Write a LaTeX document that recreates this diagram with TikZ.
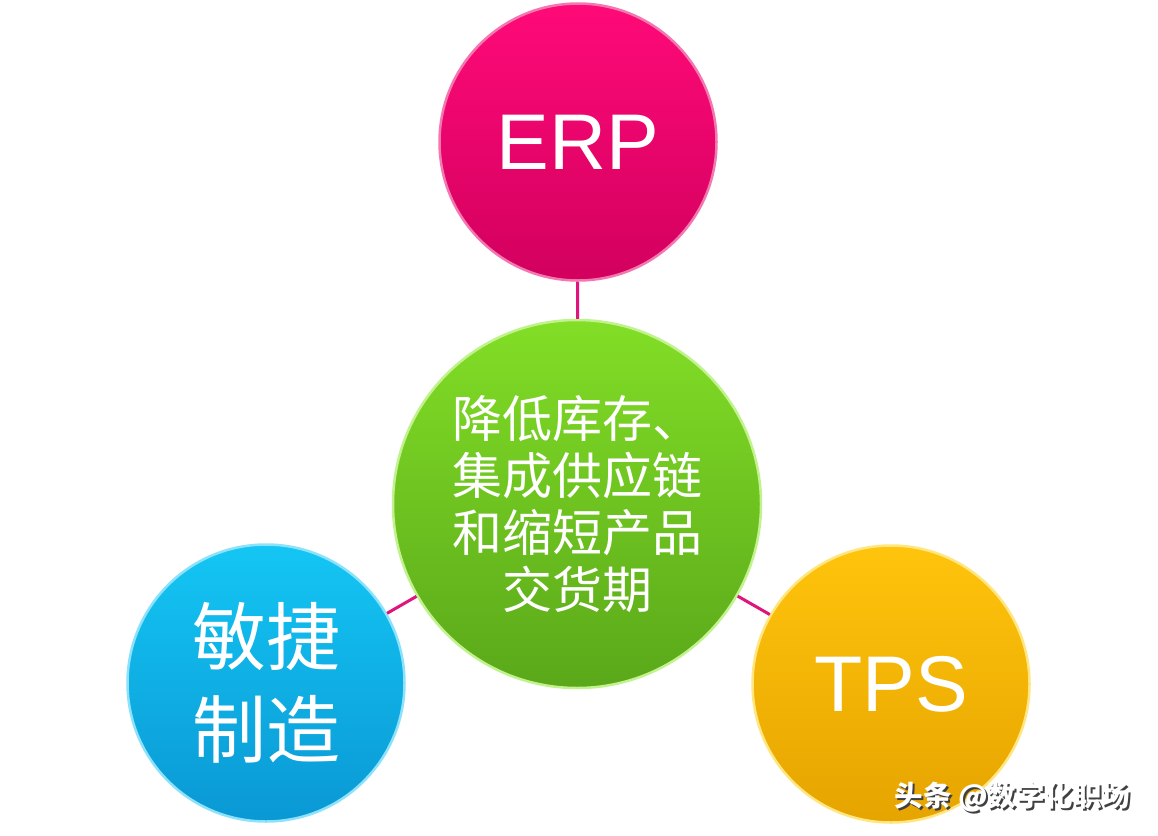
\documentclass[tikz,border=0pt]{standalone}
\usepackage{fontspec}
\setmainfont{Liberation Sans}
\newfontfamily\cjk{Noto Sans CJK SC}
\definecolor{linkpink}{HTML}{E0147C}
\definecolor{erpTop}{HTML}{FF0A78}
\definecolor{erpBot}{HTML}{D2005E}
\definecolor{erpRim}{HTML}{F478B0}
\definecolor{grnTop}{HTML}{82DE26}
\definecolor{grnBot}{HTML}{5AA81A}
\definecolor{grnRim}{HTML}{C2F28E}
\definecolor{bluTop}{HTML}{14C6F4}
\definecolor{bluBot}{HTML}{0A98D4}
\definecolor{bluRim}{HTML}{8CE2FA}
\definecolor{orgTop}{HTML}{FFC40C}
\definecolor{orgBot}{HTML}{E6A400}
\definecolor{orgRim}{HTML}{FFE680}
\begin{document}
\begin{tikzpicture}[x=1bp,y=-1bp,
  ball/.style={circle, inner sep=0pt, text=white, align=center, line width=2.5bp},
  link/.style={draw=linkpink, line width=3bp},
  latin/.style={font=\fontsize{79bp}{90bp}\selectfont},
  cjkbig/.style={font=\cjk\fontsize{74bp}{93bp}\selectfont},
  cjkmid/.style={font=\cjk\fontsize{50bp}{57bp}\selectfont},
  wmark/.style={font=\cjk\bfseries\fontsize{28.5bp}{30bp}\selectfont, inner sep=0pt}]
\useasboundingbox (0,0) rectangle (1158,836);
\fill[white] (0,0) rectangle (1158,836);
\node[ball, minimum size=277bp, top color=erpTop, bottom color=erpBot, draw=erpRim, latin] (erp) at (578,142) {ERP};
\node[ball, minimum size=368bp, top color=grnTop, bottom color=grnBot, draw=grnRim, cjkmid] (core) at (577,504) {降低库存、\\集成供应链\\和缩短产品\\交货期};
\node[ball, minimum size=277bp, top color=bluTop, bottom color=bluBot, draw=bluRim, cjkbig] (agile) at (266,683) {敏捷\\制造};
\node[ball, minimum size=277bp, top color=orgTop, bottom color=orgBot, draw=orgRim, latin] (tps) at (891,684) {TPS};
\draw[link] (erp) -- (core);
\draw[link] (agile) -- (core);
\draw[link] (core) -- (tps);
\node[wmark, text=black!75] (markshadow) at (1014.5,799.5) {头条 @数字化职场};
\node[wmark, text=white] (markfront) at (1012.5,797.5) {头条 @数字化职场};
\end{tikzpicture}
\end{document}
